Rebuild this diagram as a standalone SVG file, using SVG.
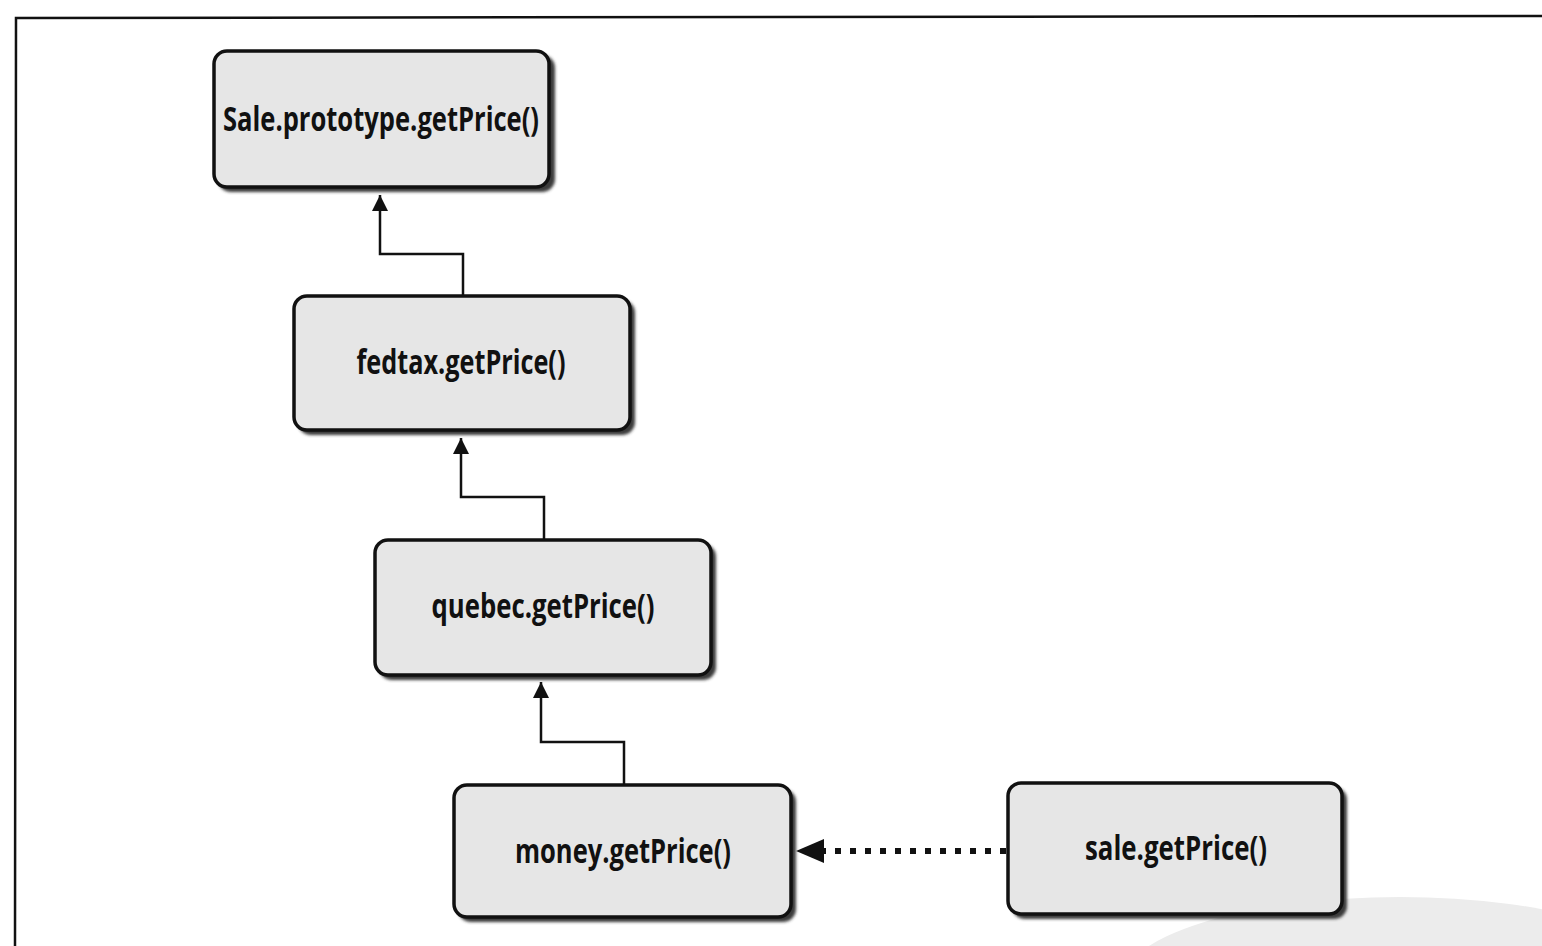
<svg xmlns="http://www.w3.org/2000/svg" width="1542" height="946" viewBox="0 0 1542 946">
  <style>
    .box { fill: #e6e6e6; stroke: #111; stroke-width: 3.5; }
    .shadow { fill: #3a3a3a; filter: url(#soft); }
    .label { font-family: "Open Sans", "DejaVu Sans Condensed", sans-serif; font-weight: 700; font-size: 34px; fill: #111; text-anchor: middle; }
    .link { fill: none; stroke: #111; stroke-width: 2.5; }
    .dotted { fill: none; stroke: #111; stroke-width: 6; stroke-dasharray: 6 9; }
  </style>
  <defs>
    <filter id="soft" x="-5%" y="-5%" width="110%" height="110%">
      <feGaussianBlur stdDeviation="1.5"/>
    </filter>
    <marker id="arrow" viewBox="0 0 10 10" refX="10" refY="5" markerWidth="16" markerHeight="16" markerUnits="userSpaceOnUse" orient="auto">
      <path d="M0,0 L10,5 L0,10 Z" fill="#111"/>
    </marker>
  </defs>

  <rect width="1542" height="946" fill="#ffffff"/>
  <!-- soft grey patch in the lower right -->
  <ellipse cx="1400" cy="985" rx="280" ry="88" fill="#ececec"/>

  <!-- outer frame -->
  <path d="M1542,16 L16,18 L15,946" fill="none" stroke="#111" stroke-width="2.5"/>

  <g id="connectors">
    <path class="link" d="M463,296 V254 H380 V195" marker-end="url(#arrow)"/>
    <path class="link" d="M544,540 V497 H461 V438" marker-end="url(#arrow)"/>
    <path class="link" d="M624,785 V742 H541 V682" marker-end="url(#arrow)"/>
    <path class="dotted" d="M1006,851 H822"/>
    <path d="M796,851 L824,839 L824,863 Z" fill="#111"/>
  </g>

  <g id="node-sale-prototype">
    <rect class="shadow" x="218" y="55" width="337" height="137" rx="13"/>
    <rect class="box" x="214" y="51" width="335" height="136" rx="13"/>
    <text class="label" x="381" y="131" textLength="316" lengthAdjust="spacingAndGlyphs">Sale.prototype.getPrice()</text>
  </g>

  <g id="node-fedtax">
    <rect class="shadow" x="298" y="300" width="337" height="135" rx="13"/>
    <rect class="box" x="294" y="296" width="336" height="134" rx="13"/>
    <text class="label" x="461" y="374" textLength="209" lengthAdjust="spacingAndGlyphs">fedtax.getPrice()</text>
  </g>

  <g id="node-quebec">
    <rect class="shadow" x="379" y="544" width="337" height="136" rx="13"/>
    <rect class="box" x="375" y="540" width="336" height="135" rx="13"/>
    <text class="label" x="543" y="618" textLength="223" lengthAdjust="spacingAndGlyphs">quebec.getPrice()</text>
  </g>

  <g id="node-money">
    <rect class="shadow" x="458" y="789" width="338" height="133" rx="13"/>
    <rect class="box" x="454" y="785" width="337" height="132" rx="13"/>
    <text class="label" x="623" y="863" textLength="216" lengthAdjust="spacingAndGlyphs">money.getPrice()</text>
  </g>

  <g id="node-sale">
    <rect class="shadow" x="1012" y="787" width="335" height="132" rx="13"/>
    <rect class="box" x="1008" y="783" width="334" height="131" rx="13"/>
    <text class="label" x="1176" y="860" textLength="182" lengthAdjust="spacingAndGlyphs">sale.getPrice()</text>
  </g>
</svg>
